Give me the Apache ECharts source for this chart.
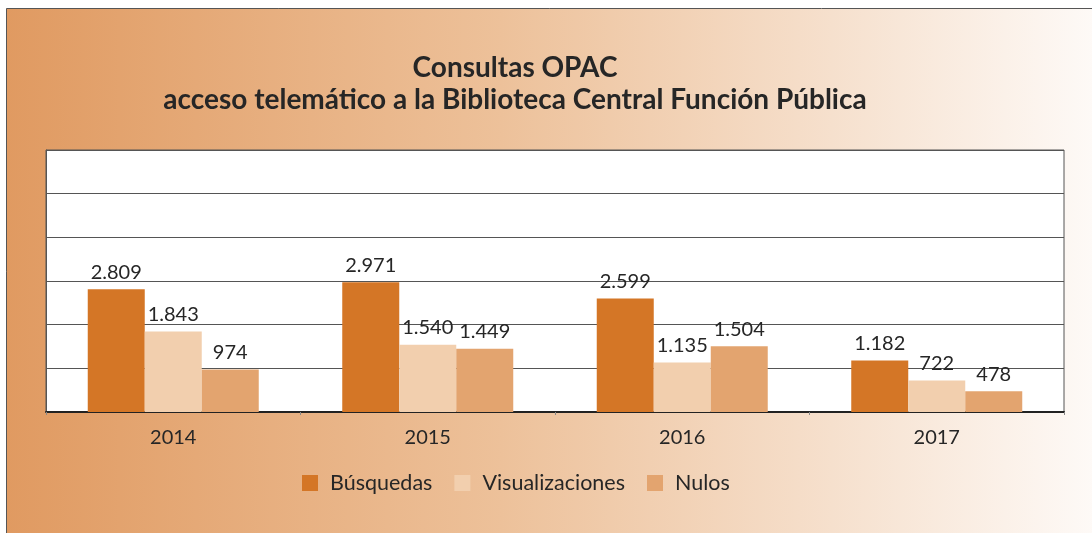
<!DOCTYPE html>
<html>
<head>
<meta charset="utf-8">
<style>
  html, body { margin: 0; padding: 0; background: #fff; }
  #main { width: 1092px; height: 533px; }
</style>
<script src="https://cdn.jsdelivr.net/npm/echarts@6/dist/echarts.min.js"></script>
</head>
<body>
<div id="main"></div>
<script>
var years = ['2014', '2015', '2016', '2017'];
var busquedas = [2809, 2971, 2599, 1182];
var visualizaciones = [1843, 1540, 1135, 722];
var nulos = [974, 1449, 1504, 478];

var fontFamily = 'Lato, "Open Sans", sans-serif';

// número con punto como separador de miles
function fmt(p) {
  return String(p.value).replace(/\B(?=(\d{3})+(?!\d))/g, '.');
}

function barSeries(name, data, color) {
  return {
    name: name,
    type: 'bar',
    data: data,
    barWidth: 57,
    barGap: 0,
    itemStyle: { color: color },
    label: {
      show: true,
      position: 'top',
      distance: 7,
      formatter: fmt,
      color: '#262626',
      fontSize: 20,
      fontFamily: fontFamily
    }
  };
}

var myChart = echarts.init(document.getElementById('main'));
myChart.setOption({
  backgroundColor: '#fff',
  animation: false,
  graphic: [
    {
      type: 'rect',
      z: -10,
      silent: true,
      shape: { x: 6.5, y: 8.5, width: 1100, height: 540 },
      style: {
        fill: new echarts.graphic.LinearGradient(0, 0, 1, 0, [
          { offset: 0, color: '#e09a61' },
          { offset: 0.45, color: '#edc19a' },
          { offset: 0.75, color: '#f6e0cd' },
          { offset: 1, color: '#fefbf9' }
        ]),
        stroke: '#555',
        lineWidth: 1
      }
    }
  ],
  title: {
    text: 'Consultas OPAC\nacceso telemático a la Biblioteca Central Función Pública',
    left: 510,
    top: 47,
    textAlign: 'center',
    textStyle: {
      color: '#262626',
      fontSize: 28,
      fontWeight: 'bold',
      fontFamily: fontFamily,
      lineHeight: 32
    }
  },
  legend: {
    left: 297,
    top: 467,
    itemWidth: 16,
    itemHeight: 16,
    itemGap: 22,
    icon: 'rect',
    textStyle: {
      color: '#262626',
      fontSize: 21.5,
      fontFamily: fontFamily,
      padding: [0, 0, 0, 7]
    },
    data: ['Búsquedas', 'Visualizaciones', 'Nulos']
  },
  grid: {
    left: 46,
    right: 28,
    top: 150,
    bottom: 121,
    show: true,
    backgroundColor: '#fff',
    borderColor: '#555',
    borderWidth: 1
  },
  xAxis: {
    type: 'category',
    data: years,
    axisLine: { lineStyle: { color: '#222', width: 2 } },
    axisTick: { show: true, length: 3, lineStyle: { color: '#888' } },
    axisLabel: {
      color: '#262626',
      fontSize: 20,
      fontFamily: fontFamily,
      margin: 16
    }
  },
  yAxis: {
    type: 'value',
    min: 0,
    max: 6000,
    interval: 1000,
    axisLabel: { show: false },
    axisTick: { show: false },
    axisLine: { show: true, lineStyle: { color: '#555', width: 1 } },
    splitLine: { lineStyle: { color: '#555', width: 1 } }
  },
  series: [
    barSeries('Búsquedas', busquedas, '#d47626'),
    barSeries('Visualizaciones', visualizaciones, '#f2cfae'),
    barSeries('Nulos', nulos, '#e3a46f')
  ]
});
window.addEventListener('resize', function () {
  myChart.resize();
});
</script>
</body>
</html>
